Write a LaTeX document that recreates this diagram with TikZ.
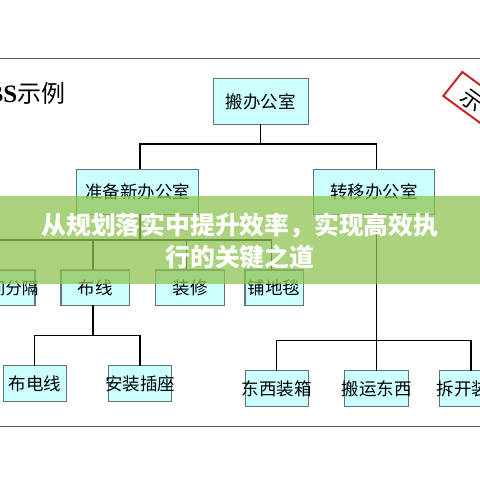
\documentclass[tikz,border=0pt]{standalone}
\usepackage{fontspec}
\setmainfont{Liberation Serif}
\newfontfamily\cjk{Noto Sans CJK SC}
\newcommand{\tx}[1]{\makebox[0pt][c]{#1}}
\definecolor{boxfill}{HTML}{CCFFFF}
\definecolor{boxline}{HTML}{5F7474}
\definecolor{framec}{HTML}{5A5A5A}
\definecolor{stampred}{HTML}{C9252B}
\definecolor{bandc}{RGB}{144,196,82}
\tikzset{
  bx/.style={draw=boxline,fill=boxfill,line width=1.1pt,inner sep=0pt,outer sep=0pt,
    font=\cjk\fontsize{17.5}{20}\selectfont,text=black},
  conn/.style={draw=black,line width=1.3pt},
  framel/.style={draw=framec,line width=1pt}
}
\begin{document}
\begin{tikzpicture}[x=1pt,y=-1pt]
\useasboundingbox (0,0) rectangle (480,480);
\clip (0,0) rectangle (480,480);
\fill[white] (0,0) rectangle (480,480);
% frame
\coordinate (fa) at (0,58.5); \coordinate (fb) at (480,58.5);
\coordinate (fc) at (0,426.7); \coordinate (fd) at (480,426.7);
\draw[framel] (fa) -- (fb);
\draw[framel] (fc) -- (fd);
% title of sheet
\node[anchor=east,inner sep=0pt,font=\fontsize{25}{28}\selectfont] (wbs) at (65.5,93) {\textbf{BS}{\cjk\fontsize{24}{28}\selectfont 示例}};
% stamp
\draw[draw=stampred,line width=2pt] (443.3,96) -- (462.3,72) -- (502,101) -- (483,125) -- cycle;
\node[rotate=-36,inner sep=0pt,font=\cjk\fontsize{22}{24}\selectfont] (stamp) at (472,101) {示};
% boxes
\node[bx,minimum width=95pt,minimum height=45.3pt] (root) at (260.8,101.4) {\tx{搬办公室}};
\node[bx,minimum width=121.6pt,minimum height=45pt] (prep) at (137.5,191.8) {\tx{准备新办公室}};
\node[bx,minimum width=121.4pt,minimum height=45pt] (move) at (374,191.8) {\tx{转移办公室}};
\node[bx,minimum width=70pt,minimum height=35.3pt] (part) at (0,287.6) {};
\node[anchor=east,inner sep=0pt,font=\cjk\fontsize{16.5}{18}\selectfont] (parttx) at (38.5,288) {间分隔};
\node[bx,minimum width=68.7pt,minimum height=35.3pt] (wire) at (95.3,287.6) {\tx{布线}};
\node[bx,minimum width=68.6pt,minimum height=35.3pt] (deco) at (190,287.6) {\tx{装修}};
\node[bx,minimum width=58.3pt,minimum height=35.3pt] (carp) at (274.1,287.6) {\tx{铺地毯}};
\node[bx,minimum width=63pt,minimum height=35.6pt] (elec) at (34.8,383.5) {\tx{布电线}};
\node[bx,minimum width=63.4pt,minimum height=35.6pt] (sock) at (140,383.5) {\tx{安装插座}};
\node[bx,minimum width=63.3pt,minimum height=35.6pt] (pack) at (276.7,388.5) {\tx{东西装箱}};
\node[bx,minimum width=63.6pt,minimum height=35.6pt] (carry) at (376.5,388.5) {\tx{搬运东西}};
\node[bx,minimum width=62.6pt,minimum height=35.6pt] (open) at (471,388.5) {\makebox[0pt][l]{\hspace{-34.5pt}拆开装箱}};
% connectors
\coordinate (b1) at (261,144);
\coordinate (b1l) at (140,144);
\coordinate (b1r) at (376.7,144);
\draw[conn] (root.south) -- (root.south |- b1);
\draw[conn] (b1l |- prep.north) |- (b1r) -- (b1r |- move.north);
\coordinate (b2) at (140,240);
\coordinate (b2l) at (-2,240);
\coordinate (b2w) at (93,240);
\coordinate (b2d) at (186.7,240);
\coordinate (b2c) at (271.7,240);
\draw[conn] (b2 |- prep.south) -- (b2);
\draw[conn] (b2l) -- (b2c) -- (b2c |- carp.north);
\draw[conn] (b2w) -- (b2w |- wire.north);
\draw[conn] (b2d) -- (b2d |- deco.north);
\coordinate (b3) at (93,335.7);
\draw[conn] (b3 |- wire.south) -- (b3);
\draw[conn] (elec.north) |- (b3) -| (sock.north);
\coordinate (b4) at (376.7,340.3);
\draw[conn] (b4 |- move.south) -- (b4 |- carry.north);
\draw[conn] (pack.north) |- (b4) -| (open.north);
% band
\fill[bandc,fill opacity=0.75] (0,196) rectangle (480,284);
\node[align=center,text=white,inner sep=0pt,font=\cjk\bfseries\fontsize{24.8}{32}\selectfont] (title) at (240,241) {从规划落实中提升效率，实现高效执\\行的关键之道};
\end{tikzpicture}
\end{document}
